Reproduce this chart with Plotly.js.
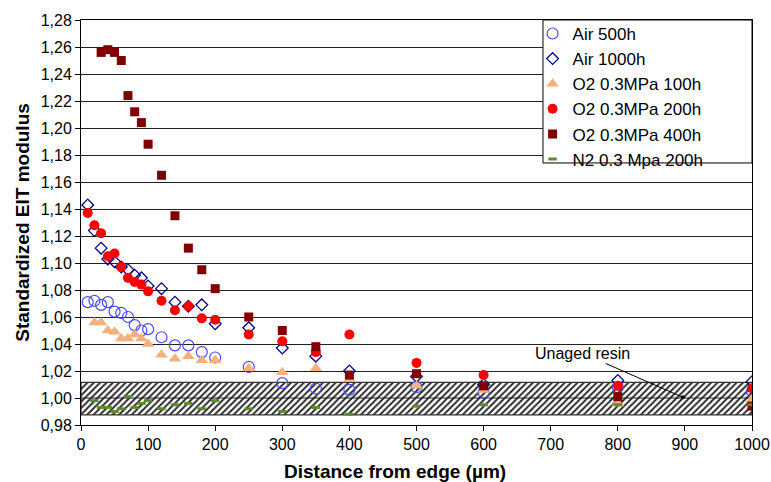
<!DOCTYPE html>
<html>
<head>
<meta charset="utf-8">
<script src="https://cdn.plot.ly/plotly-3.0.1.min.js"></script>
<style>html,body{margin:0;padding:0;background:#fff}#chart{width:771px;height:482px}</style>
</head>
<body>
<div id="chart"></div>
<script>
// distances (µm)
const xFull = [10,20,30,40,50,60,70,80,90,100,120,140,160,180,200,250,300,350,400,500,600,800,1000];
const xFrom20 = [20,30,40,50,60,70,80,90,100,120,140,160,180,200,250,300,350,400,500,600,800,1000];
const xFrom30 = [30,40,50,60,70,80,90,100,120,140,160,180,200,250,300,350,400,500,600,800,1000];

const air500 = [1.071,1.072,1.069,1.071,1.064,1.063,1.060,1.054,1.050,1.051,1.045,1.039,1.039,1.034,1.030,1.023,1.011,1.007,1.006,1.008,1.004,1.008,1.005];
const air1000 = [1.143,1.124,1.111,1.103,1.101,1.097,1.095,1.091,1.089,1.083,1.081,1.071,1.068,1.069,1.055,1.052,1.037,1.031,1.020,1.016,1.010,1.013,1.012];
const o2_100 = [1.056,1.056,1.050,1.049,1.044,1.044,1.047,1.044,1.040,1.032,1.029,1.031,1.028,1.028,1.022,1.019,1.022,1.014,1.009,1.006,0.996,0.999];
const o2_200 = [1.137,1.128,1.122,1.105,1.107,1.097,1.089,1.086,1.084,1.079,1.072,1.065,1.068,1.059,1.058,1.047,1.042,1.034,1.047,1.026,1.017,1.009,1.007];
const o2_400 = [1.256,1.258,1.256,1.250,1.224,1.212,1.204,1.188,1.165,1.135,1.111,1.095,1.081,1.060,1.050,1.038,1.017,1.018,1.009,1.001,0.994];
const n2_200 = [0.998,0.993,0.993,0.990,0.992,1.001,0.993,0.996,0.998,0.992,0.995,0.996,0.992,0.998,0.992,0.990,0.993,0.988,0.994,0.995,0.995,0.995];

// unaged resin band
const bandX = [0,1000];
const bandLow = 0.9875;
const bandHigh = 1.0115;
const bandMid = 1.00;

const seriesNames = ['Air 500h','Air 1000h','O2 0.3MPa 100h','O2 0.3MPa 200h','O2 0.3MPa 400h','N2 0.3 Mpa 200h'];

const traces = [
  {x:[bandX[0],bandX[1],bandX[1],bandX[0],bandX[0]], y:[bandLow,bandLow,bandHigh,bandHigh,bandLow],
   type:'scatter', mode:'lines', fill:'toself', showlegend:false, hoverinfo:'skip',
   line:{color:'#333',width:1.3},
   fillcolor:'white',
   fillpattern:{shape:'/', fgcolor:'#222', bgcolor:'white', size:4.5, solidity:0.4}},
  {x:bandX, y:[bandMid,bandMid], type:'scatter', mode:'lines', showlegend:false, hoverinfo:'skip',
   line:{color:'#222',width:1}},
  {x:xFull, y:air500, name:seriesNames[0], type:'scatter', mode:'markers',
   marker:{symbol:'circle-open', size:11, color:'#4a4aff', line:{width:1.2}}},
  {x:xFull, y:air1000, name:seriesNames[1], type:'scatter', mode:'markers',
   marker:{symbol:'diamond-open', size:9, color:'#000080', line:{width:1.3}}},
  {x:xFrom20, y:o2_100, name:seriesNames[2], type:'scatter', mode:'markers',
   marker:{symbol:'triangle-up', size:11, color:'#f5b07e'}},
  {x:xFull, y:o2_200, name:seriesNames[3], type:'scatter', mode:'markers',
   marker:{symbol:'circle', size:10, color:'#ff0000'}},
  {x:xFrom30, y:o2_400, name:seriesNames[4], type:'scatter', mode:'markers',
   marker:{symbol:'square', size:9, color:'#800000'}},
  {x:xFrom20, y:n2_200, name:seriesNames[5], type:'scatter', mode:'markers',
   marker:{symbol:'line-ew', size:6, color:'#5e8a2e', line:{color:'#5e8a2e', width:3}}}
];

const layout = {
  width:771, height:482,
  margin:{l:81, r:19, t:20, b:57},
  paper_bgcolor:'white', plot_bgcolor:'white',
  separators:', ',
  font:{family:'Liberation Sans, Arial, sans-serif', size:16, color:'#000'},
  showlegend:true,
  legend:{x:0.673, xanchor:'left', y:1.01, yanchor:'top', bgcolor:'rgba(0,0,0,0)', borderwidth:0,
          itemwidth:30, font:{size:17, color:'#000'}, tracegroupgap:0},
  shapes:[
    {type:'rect', xref:'paper', yref:'paper', x0:0.6885, x1:1, y0:0.647, y1:1,
     fillcolor:'white', line:{color:'#000', width:1}, layer:'above'}
  ],
  xaxis:{range:[0,1000], dtick:100, tick0:0, showgrid:false, zeroline:false,
         showline:true, linecolor:'#000', linewidth:1, mirror:true,
         ticks:'outside', ticklen:5, tickcolor:'#000',
         tickfont:{size:16}},
  yaxis:{range:[0.98,1.28], dtick:0.02, tick0:0.98, tickformat:'.2f',
         showgrid:true, gridcolor:'#222', gridwidth:1, zeroline:false,
         showline:true, linecolor:'#000', linewidth:1, mirror:true,
         ticks:'outside', ticklen:5, tickcolor:'#000',
         tickfont:{size:16},
         title:{text:'<b>Standardized EIT modulus</b>', font:{size:19}, standoff:6}},
  annotations:[
    {x:0.468, y:-0.116, xref:'paper', yref:'paper', xanchor:'center', yanchor:'middle',
     text:'<b>Distance from edge (µm)</b>', showarrow:false, font:{size:19, color:'#000'}},
    {x:897, y:1.0005, xref:'x', yref:'y', ax:748, ay:1.033, axref:'x', ayref:'y',
     text:'Unaged resin', showarrow:true, arrowhead:6, arrowsize:1, arrowwidth:1, arrowcolor:'#000',
     font:{size:16, color:'#000'}}
  ]
};

Plotly.newPlot('chart', traces, layout, {displayModeBar:false, staticPlot:true});
</script>
</body>
</html>
